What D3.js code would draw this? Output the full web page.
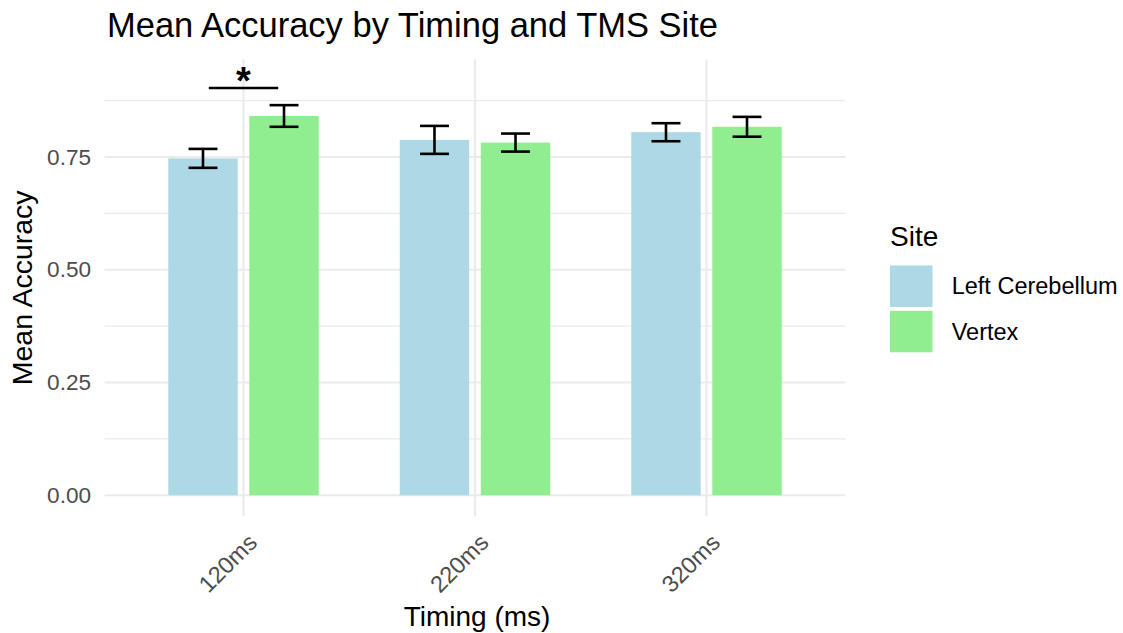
<!DOCTYPE html>
<html>
<head>
<meta charset="utf-8">
<script src="https://cdn.jsdelivr.net/npm/d3@7"></script>
<style>
  html, body { margin: 0; padding: 0; background: #ffffff; }
  svg { display: block; font-family: "Liberation Sans", Arial, sans-serif; }
</style>
</head>
<body>
<svg id="chart" width="1123" height="633"></svg>
<script>
// ---- data ----
const timings = ["120ms", "220ms", "320ms"];
const sites = ["Left Cerebellum", "Vertex"];
const meanLeftCerebellum = [0.747, 0.788, 0.805];
const meanVertex = [0.841, 0.782, 0.817];
const seLeftCerebellum = [0.021, 0.031, 0.020];
const seVertex = [0.024, 0.020, 0.022];
const yTicks = [0, 0.25, 0.5, 0.75];
const yMinorTicks = [0.125, 0.375, 0.625, 0.875];
const siteColors = ["#ADD8E6", "#90EE90"];
// significance annotation: category, span (in category units), line value, star value
const sigCategory = "120ms";
const sigSpan = [-0.15, 0.15];
const sigLineY = 0.903;
const sigStarY = 0.92;
const sigLabel = "*";

const rows = [];
timings.forEach((t, i) => {
  rows.push({ timing: t, site: sites[0], mean: meanLeftCerebellum[i], se: seLeftCerebellum[i] });
  rows.push({ timing: t, site: sites[1], mean: meanVertex[i], se: seVertex[i] });
});

// ---- layout ----
const panel = { left: 104.6, right: 845.4, top: 59.6, bottom: 516 };
const svg = d3.select("#chart");

const x = d3.scalePoint().domain(timings).range([panel.left, panel.right]).padding(0.6);
const step = x.step();
const xSub = d3.scaleBand().domain(sites).range([-0.35 * step, 0.35 * step]).padding(0);
const barW = 0.3 * step;
const ebW = 0.125 * step;

const yMax = sigStarY;
const y = d3.scaleLinear()
  .domain([0 - 0.05 * yMax, yMax * 1.05])
  .range([panel.bottom, panel.top]);
const color = d3.scaleOrdinal().domain(sites).range(siteColors);

// ---- grid ----
const grid = svg.append("g");
grid.selectAll("line.minor").data(yMinorTicks).enter().append("line")
  .attr("x1", panel.left).attr("x2", panel.right)
  .attr("y1", d => y(d)).attr("y2", d => y(d))
  .attr("stroke", "#EBEBEB").attr("stroke-width", 1.1);
grid.selectAll("line.major").data(yTicks).enter().append("line")
  .attr("x1", panel.left).attr("x2", panel.right)
  .attr("y1", d => y(d)).attr("y2", d => y(d))
  .attr("stroke", "#EBEBEB").attr("stroke-width", 2.2);
grid.selectAll("line.vmajor").data(timings).enter().append("line")
  .attr("x1", d => x(d)).attr("x2", d => x(d))
  .attr("y1", panel.top).attr("y2", panel.bottom)
  .attr("stroke", "#EBEBEB").attr("stroke-width", 2.2);

// ---- bars ----
const cx = d => x(d.timing) + xSub(d.site) + xSub.bandwidth() / 2;
svg.append("g").selectAll("rect").data(rows).enter().append("rect")
  .attr("x", d => cx(d) - barW / 2)
  .attr("width", barW)
  .attr("y", d => y(d.mean))
  .attr("height", d => y(0) - y(d.mean))
  .attr("fill", d => color(d.site));

// ---- error bars ----
const eb = svg.append("g").attr("stroke", "#000").attr("stroke-width", 2.6).attr("fill", "none");
rows.forEach(d => {
  const c = cx(d), lo = y(d.mean - d.se), hi = y(d.mean + d.se);
  eb.append("line").attr("x1", c).attr("x2", c).attr("y1", lo).attr("y2", hi);
  eb.append("line").attr("x1", c - ebW / 2).attr("x2", c + ebW / 2).attr("y1", lo).attr("y2", lo);
  eb.append("line").attr("x1", c - ebW / 2).attr("x2", c + ebW / 2).attr("y1", hi).attr("y2", hi);
});

// ---- significance ----
svg.append("line")
  .attr("x1", x(sigCategory) + sigSpan[0] * step)
  .attr("x2", x(sigCategory) + sigSpan[1] * step)
  .attr("y1", y(sigLineY)).attr("y2", y(sigLineY))
  .attr("stroke", "#000").attr("stroke-width", 2.6);
svg.append("text")
  .attr("x", x(sigCategory))
  .attr("y", y(sigStarY))
  .attr("dy", "0.36em")
  .attr("text-anchor", "middle")
  .attr("font-size", 38)
  .attr("font-weight", "bold")
  .attr("fill", "#000")
  .text(sigLabel);

// ---- axes ----
const yAxis = svg.append("g")
  .attr("transform", `translate(${panel.left},0)`)
  .call(d3.axisLeft(y).tickValues(yTicks).tickFormat(d3.format(".2f")).tickSize(0).tickPadding(13.5));
yAxis.select(".domain").remove();
yAxis.selectAll("text").attr("font-size", 22.6).attr("fill", "#4D4D4D")
  .attr("font-family", "Liberation Sans, Arial, sans-serif");

const xAxis = svg.append("g")
  .attr("transform", `translate(0,${panel.bottom})`)
  .call(d3.axisBottom(x).tickSize(0).tickPadding(0));
xAxis.select(".domain").remove();
xAxis.selectAll("text")
  .attr("font-size", 23.5).attr("fill", "#4D4D4D")
  .attr("font-family", "Liberation Sans, Arial, sans-serif")
  .attr("text-anchor", "end")
  .attr("dy", null)
  .attr("y", 0)
  .attr("transform", "translate(14.5,28) rotate(-45)");

// ---- titles ----
svg.append("text")
  .attr("x", 107).attr("y", 37)
  .attr("font-size", 34.5).attr("fill", "#000")
  .text("Mean Accuracy by Timing and TMS Site");
svg.append("text")
  .attr("transform", `translate(32,${(panel.top + panel.bottom) / 2}) rotate(-90)`)
  .attr("text-anchor", "middle")
  .attr("font-size", 28.5).attr("fill", "#000")
  .text("Mean Accuracy");
svg.append("text")
  .attr("x", (panel.left + panel.right) / 2 + 2).attr("y", 626)
  .attr("text-anchor", "middle")
  .attr("font-size", 28).attr("fill", "#000")
  .text("Timing (ms)");

// ---- legend ----
const legend = svg.append("g").attr("transform", "translate(890,0)");
legend.append("text").attr("x", 0).attr("y", 246)
  .attr("font-size", 28).attr("fill", "#000").text("Site");
const keyH = 45.3, keyTop = 265.5;
const items = legend.selectAll("g.item").data(sites).enter().append("g")
  .attr("transform", (d, i) => `translate(0,${keyTop + i * keyH})`);
items.append("rect").attr("x", 0).attr("y", 0).attr("width", 42.5).attr("height", 41.5)
  .attr("fill", d => color(d));
items.append("text").attr("x", 61.7).attr("y", 20.75).attr("dy", "0.35em")
  .attr("font-size", 23.5).attr("fill", "#000").text(d => d);
</script>
</body>
</html>
